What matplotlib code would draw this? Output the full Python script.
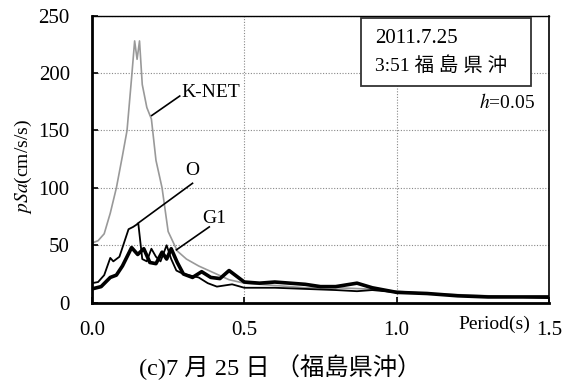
import matplotlib.pyplot as plt
from matplotlib.patches import Rectangle

plt.rcParams['font.family'] = ['Liberation Serif', 'Noto Sans CJK JP']
plt.rcParams['mathtext.fontset'] = 'stix'

# K-NET (gray)
knet_t = [0.0, 0.02, 0.04, 0.06, 0.08, 0.10, 0.115, 0.13, 0.14, 0.148, 0.156, 0.165, 0.18, 0.195,
          0.21, 0.23, 0.25, 0.28, 0.31, 0.35, 0.40, 0.45, 0.5, 0.6, 0.7, 0.8, 0.9, 1.0, 1.1, 1.2,
          1.3, 1.4, 1.5]
knet_v = [52, 54, 60, 78, 100, 128, 150, 196, 228, 212, 228, 190, 170, 160,
          124, 100, 62, 45, 38, 32, 26, 20, 17, 15, 13, 13, 12, 10, 8, 7,
          6, 5, 5]
# O (thin black)
o_t = [0.0, 0.02, 0.04, 0.06, 0.07, 0.09, 0.10, 0.12, 0.135, 0.152, 0.165, 0.18, 0.195, 0.21,
       0.225, 0.245, 0.26, 0.277, 0.30, 0.35, 0.38, 0.41, 0.46, 0.5, 0.6, 0.7, 0.8, 0.87, 0.92,
       1.0, 1.1, 1.2, 1.3, 1.4, 1.5]
o_v = [17, 18, 24, 39, 36, 40, 48, 64, 66, 69, 38, 36, 47, 40,
       36, 50, 38, 28, 25, 22, 17, 14, 16, 13, 13, 12, 11, 10, 11,
       9, 8, 6, 5, 5, 4]
# G1 (thick black)
g1_t = [0.0, 0.03, 0.06, 0.08, 0.10, 0.13, 0.15, 0.17, 0.19, 0.21, 0.23, 0.245, 0.26, 0.28,
        0.30, 0.33, 0.36, 0.39, 0.42, 0.45, 0.48, 0.5, 0.55, 0.6, 0.7, 0.75, 0.8, 0.87, 0.92,
        1.0, 1.1, 1.2, 1.3, 1.4, 1.5]
g1_v = [12, 14, 22, 24, 32, 48, 42, 47, 35, 34, 44, 38, 47, 35,
        25, 22, 27, 22, 21, 28, 22, 18, 17, 18, 16, 14, 14, 17, 13,
        9, 8, 6, 5, 5, 5]

fig = plt.figure(figsize=(5.62, 3.85), dpi=100)
ax = fig.add_axes([0.1637, 0.2138, 0.813, 0.7455])

ax.plot(knet_t, knet_v, color='#999999', lw=1.2)
ax.plot(o_t, o_v, color='black', lw=1.3)
ax.plot(g1_t, g1_v, color='black', lw=2.6)

ax.set_xlim(0, 1.5)
ax.set_ylim(0, 250)
ax.set_xticks([0.0, 0.5, 1.0, 1.5])
ax.set_xticklabels(['0.0', '0.5', '1.0', '1.5'])
ax.set_yticks([0, 50, 100, 150, 200, 250])
ax.tick_params(direction='in', labelsize=15, length=4, width=1.2, pad=13)
ax.tick_params(axis='y', pad=16)
ax.grid(True, color='#888888', linestyle=(0, (1, 1.5)), lw=0.8)
for s in ['left', 'bottom']:
    ax.spines[s].set_linewidth(2)
ax.spines['right'].set_linewidth(1.2)
ax.spines['top'].set_linewidth(1.0)

ax.set_ylabel('$pSa$(cm/s/s)', fontsize=14)
ax.yaxis.set_label_coords(-0.128, 0.476)
ax.text(1.438, -19, 'Period(s)', fontsize=14, ha='right', va='center', clip_on=False)

# annotations
ax.plot([0.196, 0.288], [163, 180], color='black', lw=1.2)
ax.text(0.294, 183, 'K-NET', fontsize=14, ha='left', va='center')
ax.plot([0.15, 0.33], [69, 104], color='black', lw=1.2)
ax.text(0.33, 115, 'O', fontsize=14, ha='center', va='center')
ax.plot([0.277, 0.385], [46, 66], color='black', lw=1.2)
ax.text(0.40, 73, 'G1', fontsize=14, ha='center', va='center')

ax.add_patch(Rectangle((0.882, 189), 0.558, 59, fc='white', ec='#333333', lw=1.3, zorder=3))
ax.text(0.93, 230, '2011.7.25', fontsize=15, ha='left', va='center', zorder=4)
ax.text(0.93, 206.5, '3:51 福 島 県 沖', fontsize=14, ha='left', va='center', zorder=4)
ax.text(1.454, 174.5, '$h$=0.05', fontsize=14, ha='right', va='center')

fig.text(0.498, 0.047, '(c)7 月 25 日 （福島県沖）', fontsize=17.5, ha='center', va='center')

plt.savefig('out.png', dpi=100)
